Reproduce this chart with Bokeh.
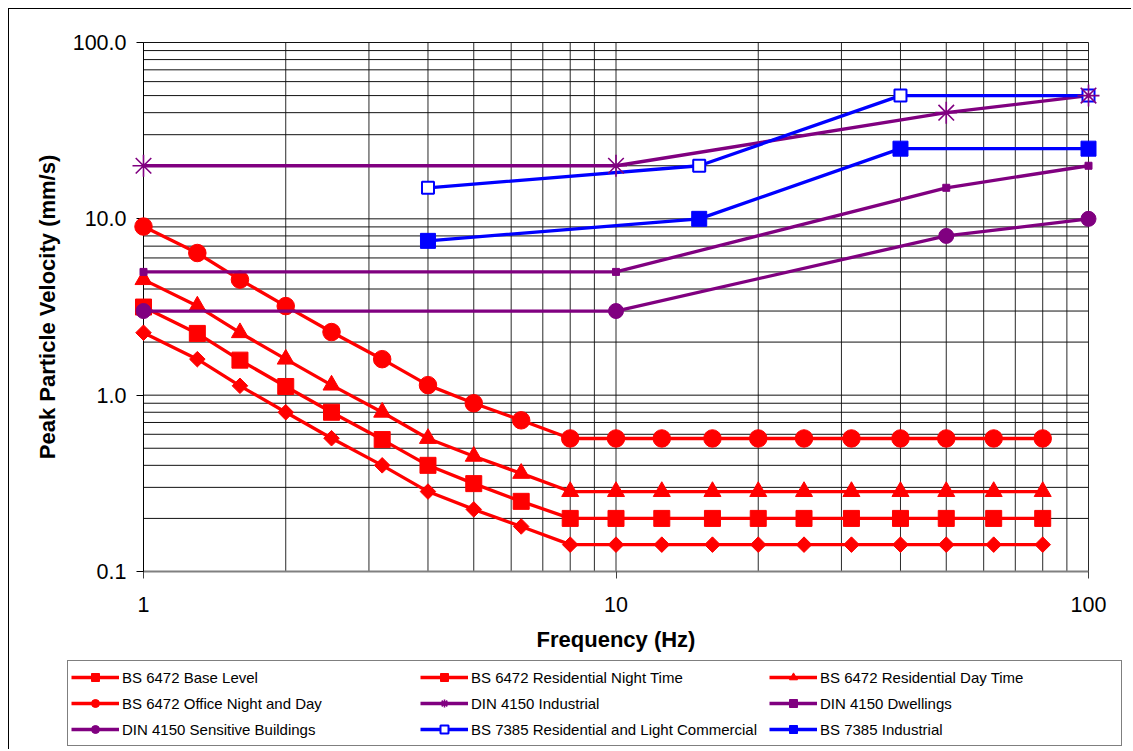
from math import pi
from bokeh.plotting import figure
from bokeh.models import (FixedTicker, PrintfTickFormatter, Legend, LegendItem,
                          Range1d)
from bokeh.embed import file_html
from bokeh.resources import INLINE

# ---------------- data ----------------
freq_bs6472 = [1, 1.3, 1.6, 2, 2.5, 3.2, 4, 5, 6.3, 8, 10, 12.5, 16, 20, 25,
               31.5, 40, 50, 63, 80]
bs6472_base = [2.26, 1.6, 1.13, 0.8, 0.57, 0.4, 0.284, 0.225, 0.18, 0.142,
               0.142, 0.142, 0.142, 0.142, 0.142, 0.142, 0.142, 0.142, 0.142, 0.142]
bs6472_night = [3.16, 2.24, 1.58, 1.12, 0.8, 0.56, 0.4, 0.315, 0.25, 0.2,
                0.2, 0.2, 0.2, 0.2, 0.2, 0.2, 0.2, 0.2, 0.2, 0.2]
bs6472_day = [4.52, 3.2, 2.26, 1.6, 1.14, 0.8, 0.568, 0.45, 0.36, 0.284,
              0.284, 0.284, 0.284, 0.284, 0.284, 0.284, 0.284, 0.284, 0.284, 0.284]
bs6472_office = [9.04, 6.4, 4.52, 3.2, 2.28, 1.6, 1.14, 0.9, 0.72, 0.568,
                 0.568, 0.568, 0.568, 0.568, 0.568, 0.568, 0.568, 0.568, 0.568, 0.568]

freq_din = [1, 10, 50, 100]
din_industrial = [20, 20, 40, 50]
din_dwellings = [5, 5, 15, 20]
din_sensitive = [3, 3, 8, 10]

freq_bs7385 = [4, 15, 40, 100]
bs7385_residential = [15, 20, 50, 50]
bs7385_industrial = [7.5, 10, 25, 25]

x_ticks = [1, 10, 100]
y_ticks = [0.1, 1, 10, 100]

labels = ["BS 6472 Base Level", "BS 6472 Residential Night Time",
          "BS 6472 Residential Day Time", "BS 6472 Office Night and Day",
          "DIN 4150 Industrial", "DIN 4150 Dwellings",
          "DIN 4150 Sensitive Buildings",
          "BS 7385 Residential and Light Commercial", "BS 7385 Industrial"]

# ---------------- layout (pixels) ----------------
W, H = 1123, 741            # canvas, placed at page (9, 9)
PX_X1, PX_X100 = 134, 1079  # canvas x of 1 Hz and 100 Hz
PX_Y100, PX_Y01 = 33, 562   # canvas y of 100 and 0.1 mm/s
dec_x = (PX_X100 - PX_X1) / 2.0
dec_y = (PX_Y01 - PX_Y100) / 3.0
x_lo = 10 ** (-PX_X1 / dec_x)
x_hi = 10 ** (2 + (W - PX_X100) / dec_x)
y_lo = 10 ** (-1 - (H - PX_Y01) / dec_y)
y_hi = 10 ** (2 + PX_Y100 / dec_y)

RED, PURPLE, BLUE = "#FF0000", "#800080", "#0000FF"
FONT = "Liberation Sans"

p = figure(width=W, height=H, x_axis_type="log", y_axis_type="log",
           x_range=Range1d(x_lo, x_hi), y_range=Range1d(y_lo, y_hi),
           output_backend="svg", toolbar_location=None,
           min_border=0, min_border_left=0, min_border_right=0,
           min_border_top=0, min_border_bottom=0)
p.styles = {"margin-left": "8px", "margin-top": "8px",
            "border-left": "1px solid black", "border-top": "1px solid black"}
p.outline_line_color = None
p.background_fill_color = "white"
p.border_fill_color = "white"
p.xgrid.visible = False
p.ygrid.visible = False

# grid lines (decade major + 2..9 minor), limited to the plot area
grid_x = [m * d for d in (1, 10) for m in range(1, 10)] + [100]
grid_y = [m * d for d in (0.1, 1, 10) for m in range(1, 10)] + [100]
p.segment(x0=grid_x, x1=grid_x, y0=[0.1] * len(grid_x), y1=[100] * len(grid_x),
          line_color="#2a2a2a", line_width=1, level="underlay")
p.segment(x0=[1] * len(grid_y), x1=[100] * len(grid_y), y0=grid_y, y1=grid_y,
          line_color="#111111", line_width=1, level="underlay")

# axes (fixed inside the frame)
p.xaxis.fixed_location = 0.1
p.xaxis.ticker = FixedTicker(ticks=x_ticks, minor_ticks=[])
p.xaxis.formatter = PrintfTickFormatter(format="%d")
p.xaxis.bounds = (1, 100)
p.xaxis.axis_line_color = "#808080"
p.xaxis.axis_line_width = 2
p.xaxis.major_tick_line_color = "#404040"
p.xaxis.major_tick_out = 7
p.xaxis.major_tick_in = 0
p.xaxis.minor_tick_out = 0
p.xaxis.minor_tick_in = 0
p.xaxis.major_label_standoff = 18
p.xaxis.axis_label = "Frequency (Hz)"
p.xaxis.axis_label_standoff = 12

p.yaxis.fixed_location = 1
p.yaxis.ticker = FixedTicker(ticks=y_ticks, minor_ticks=[])
p.yaxis.formatter = PrintfTickFormatter(format="%.1f")
p.yaxis.bounds = (0.1, 100)
p.yaxis.axis_line_color = "black"
p.yaxis.major_tick_line_color = "black"
p.yaxis.major_tick_out = 7
p.yaxis.major_tick_in = 0
p.yaxis.minor_tick_out = 0
p.yaxis.minor_tick_in = 0
p.yaxis.major_label_standoff = 10
p.yaxis.axis_label = "Peak Particle Velocity (mm/s)"
p.yaxis.axis_label_standoff = 10

for ax in (p.xaxis, p.yaxis):
    ax.level = "underlay"
    ax.major_label_text_font = FONT
    ax.major_label_text_font_size = "21.5px"
    ax.major_label_text_color = "black"
    ax.axis_label_text_font = FONT
    ax.axis_label_text_font_size = "22px"
    ax.axis_label_text_font_style = "bold"
    ax.axis_label_text_color = "black"

# ---------------- series ----------------
LW = 3.3
series = [
    (freq_bs6472, bs6472_base, RED, dict(marker="square", size=11, angle=pi / 4)),
    (freq_bs6472, bs6472_night, RED, dict(marker="square", size=16)),
    (freq_bs6472, bs6472_day, RED, dict(marker="triangle", size=17)),
    (freq_bs6472, bs6472_office, RED, dict(marker="circle", size=17.5)),
    (freq_din, din_industrial, PURPLE, dict(marker="asterisk", size=22, line_width=1.6,
                                             level="guide")),
    (freq_din, din_dwellings, PURPLE, dict(marker="square", size=7)),
    (freq_din, din_sensitive, PURPLE, dict(marker="circle", size=15)),
    (freq_bs7385, bs7385_residential, BLUE, dict(marker="square", size=12, fill_color="white", line_width=2)),
    (freq_bs7385, bs7385_industrial, BLUE, dict(marker="square", size=15)),
]

items = []
for (xs, ys, col, mk), lab in zip(series, labels):
    ln = p.line(xs, ys, line_color=col, line_width=LW)
    kw = dict(fill_color=col, line_color=col)
    kw.update(mk)
    sc = p.scatter(xs, ys, **kw)
    items.append(LegendItem(label=lab, renderers=[ln, sc]))

legend = Legend(items=items, location=(58, 4), orientation="horizontal",
                ncols=3)
legend.label_text_font = FONT
legend.label_text_font_size = "15px"
legend.label_text_color = "black"
legend.glyph_width = 48
legend.glyph_height = 20
legend.label_height = 26
legend.label_standoff = 3
legend.label_width = 298
legend.spacing = 0
legend.padding = 3
legend.margin = 0
legend.border_line_color = "black"
legend.border_line_width = 1
legend.background_fill_color = "white"
legend.background_fill_alpha = 1
p.add_layout(legend, "center")

open("out.html", "w").write(file_html(p, INLINE))
